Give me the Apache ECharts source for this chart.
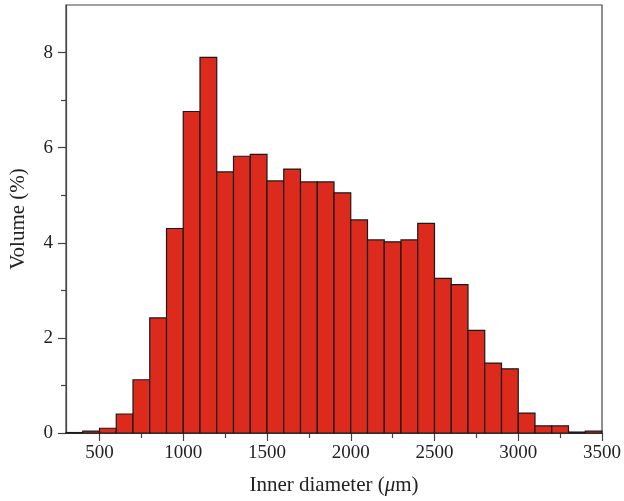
<!DOCTYPE html>
<html><head><meta charset="utf-8">
<script src="https://cdn.jsdelivr.net/npm/echarts@6/dist/echarts.min.js"></script>
<style>html,body{margin:0;padding:0;background:#fff}#c{width:624px;height:501px}</style>
</head><body><div id="c"></div>
<script>
var binStarts = [300,400,500,600,700,800,900,1000,1100,1200,1300,1400,1500,1600,1700,1800,1900,2000,2100,2200,2300,2400,2500,2600,2700,2800,2900,3000,3100,3200,3300,3400];
var volumes = [0.01,0.04,0.1,0.4,1.12,2.42,4.3,6.76,7.9,5.49,5.82,5.86,5.3,5.55,5.28,5.28,5.05,4.48,4.06,4.02,4.06,4.41,3.25,3.12,2.16,1.47,1.35,0.42,0.15,0.15,0.02,0.04];
var xTickLabels = [500,1000,1500,2000,2500,3000,3500];
var xMinorTicks = [750,1250,1750,2250,2750,3250];
var yTickLabels = [0,2,4,6,8];
var yMinorTicks = [1,3,5,7];
var binWidth = binStarts[1] - binStarts[0];
var data = binStarts.map(function(s,i){return [s, volumes[i]];});

var font = '"Liberation Serif", "DejaVu Serif", serif';
var axisColor = '#444';
var chart = echarts.init(document.getElementById('c'));
chart.setOption({
  animation:false,
  grid:{left:66,right:22,top:5,bottom:68,show:true,borderColor:axisColor,borderWidth:1.2,backgroundColor:'transparent'},
  xAxis:[{
    type:'value',min:300,max:3500,
    axisLine:{lineStyle:{color:axisColor,width:1.2}},
    axisTick:{show:true,customValues:xTickLabels,length:8,lineStyle:{color:axisColor,width:1.2}},
    axisLabel:{customValues:xTickLabels,color:'#222',fontFamily:font,fontSize:19,margin:11,formatter:function(v){return String(v);}},
    splitLine:{show:false},
    name:'Inner diameter ({i|μ}m)',nameLocation:'middle',nameGap:42,
    nameTextStyle:{color:'#222',fontFamily:font,fontSize:21,rich:{i:{fontStyle:'italic',fontFamily:font,fontSize:21,color:'#222'}}}
  },{
    type:'value',min:300,max:3500,position:'bottom',
    axisLine:{show:false},
    axisTick:{show:true,customValues:xMinorTicks,length:5,lineStyle:{color:axisColor,width:1.2}},
    axisLabel:{show:false},splitLine:{show:false}
  }],
  yAxis:[{
    type:'value',min:0,max:9,
    axisLine:{show:true,lineStyle:{color:axisColor,width:1.2}},
    axisTick:{show:true,customValues:yTickLabels,length:8,lineStyle:{color:axisColor,width:1.2}},
    axisLabel:{customValues:yTickLabels,color:'#222',fontFamily:font,fontSize:19,margin:13},
    splitLine:{show:false},
    name:'Volume (%)',nameLocation:'middle',nameGap:37,
    nameTextStyle:{color:'#222',fontFamily:font,fontSize:21}
  },{
    type:'value',min:0,max:9,position:'left',
    axisLine:{show:false},
    axisTick:{show:true,customValues:yMinorTicks,length:5,lineStyle:{color:axisColor,width:1.2}},
    axisLabel:{show:false},splitLine:{show:false}
  }],
  series:[{
    type:'custom',
    xAxisIndex:0,yAxisIndex:0,
    data:data,
    renderItem:function(params, api){
      var x0 = api.value(0), v = api.value(1);
      var p0 = api.coord([x0, v]);
      var p1 = api.coord([x0 + binWidth, 0]);
      return {type:'rect',shape:{x:p0[0],y:p0[1],width:p1[0]-p0[0],height:p1[1]-p0[1]},
        style:{fill:'#DC2A1C',stroke:'#1a1a1a',lineWidth:1.2}};
    }
  }]
});
</script></body></html>
